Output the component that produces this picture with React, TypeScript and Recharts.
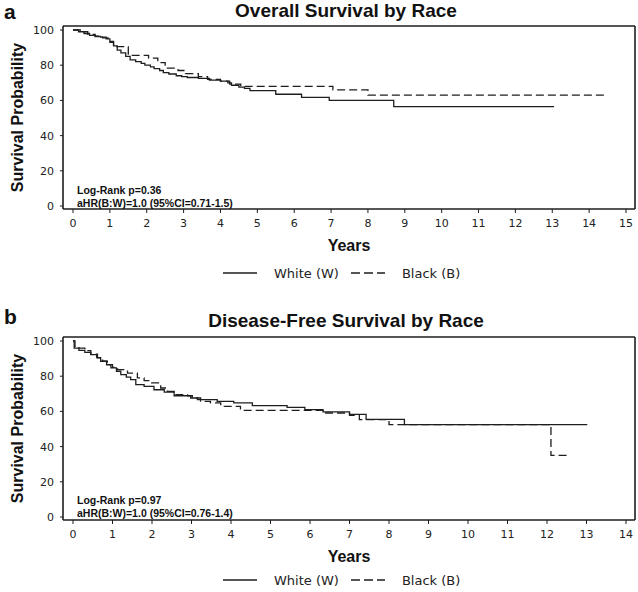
import { LineChart, Line, XAxis, YAxis, Legend, Label } from 'recharts';

// Overall survival (panel a)
const osWhiteYears = [0, 0.15, 0.3, 0.45, 0.6, 0.75, 0.9, 1.0, 1.1, 1.2, 1.3, 1.43, 1.55, 1.7, 1.85, 1.95, 2.1, 2.2, 2.35, 2.45, 2.6, 2.8, 2.95, 3.1, 3.4, 3.7, 4.0, 4.2, 4.3, 4.5, 4.65, 4.8, 5.5, 6.2, 6.95, 8.7, 13.05];
const osWhiteSurv = [100, 99, 98, 97, 96.3, 96, 95, 93, 91, 88.6, 87, 85, 83, 82, 81, 80, 79, 78, 77, 75.8, 75, 74, 73.5, 73, 72.5, 71.5, 71, 70, 68.6, 67.5, 66.8, 65.6, 63.5, 61.7, 60, 56.5, 56.5];
const osBlackYears = [0, 0.2, 0.4, 0.6, 0.8, 0.95, 1.1, 1.5, 2.05, 2.3, 2.5, 2.85, 3.05, 3.4, 3.65, 4.0, 4.25, 4.55, 7.05, 8.0, 14.5];
const osBlackSurv = [100, 99, 97.5, 96.5, 95.5, 93.5, 90.5, 85.6, 84, 81.5, 78.3, 77, 75.2, 73.5, 72, 71, 69.3, 68, 66, 63, 63];

// Disease-free survival (panel b)
const dfsWhiteYears = [0, 0.03, 0.15, 0.3, 0.45, 0.6, 0.7, 0.85, 0.96, 1.1, 1.21, 1.35, 1.46, 1.59, 1.8, 2.05, 2.31, 2.56, 2.98, 3.15, 3.65, 4.07, 4.54, 5.42, 5.87, 6.33, 7.0, 7.42, 8.39, 13.02];
const dfsWhiteSurv = [100, 96, 94.7, 93.5, 92.3, 90.5, 88.5, 86.5, 84.7, 82.8, 80.9, 79.5, 78, 75.2, 74.2, 72.3, 71, 68.9, 67.6, 66.7, 65.7, 64.8, 63.3, 62.3, 61, 59.7, 58.3, 55.5, 52.5, 52.5];
const dfsBlackYears = [0, 0.05, 0.15, 0.3, 0.45, 0.62, 0.75, 0.87, 1.0, 1.13, 1.38, 1.63, 1.8, 1.97, 2.22, 2.39, 2.56, 2.9, 3.02, 3.23, 3.48, 3.74, 4.24, 6.33, 7.0, 7.25, 8.0, 12.1, 12.58];
const dfsBlackSurv = [100, 97, 96, 94.5, 92.5, 90.4, 88.5, 86.6, 85, 83.7, 81.8, 79, 77.5, 76.2, 73.3, 71.4, 69.5, 68.9, 67.6, 65.7, 64.8, 62.9, 60.6, 59.1, 57.8, 55.3, 52.5, 35, 35];

const osYearTicks = [0, 1, 2, 3, 4, 5, 6, 7, 8, 9, 10, 11, 12, 13, 14, 15];
const dfsYearTicks = [0, 1, 2, 3, 4, 5, 6, 7, 8, 9, 10, 11, 12, 13, 14];
const probTicks = [0, 20, 40, 60, 80, 100];

const raceNames = ['White (W)', 'Black (B)'];

const INK = '#1e1e1e';
const DASH = '8 4';
const tickFont = { fill: '#222', fontSize: 11, fontFamily: 'DejaVu Sans' };
const boldFont = '"Liberation Sans", Arial, sans-serif';

const toRows = (years: number[], surv: number[]) => years.map((t, i) => ({ t, v: surv[i] }));

const YLabel = (props: any) => {
  const vb = props.viewBox;
  const cx = vb.x + 17;
  const cy = vb.y + vb.height / 2;
  return (
    <text x={cx} y={cy} transform={`rotate(-90 ${cx} ${cy})`} textAnchor="middle" dominantBaseline="central"
      fontFamily={boldFont} fontWeight="bold" fontSize={16} fill="#111">
      Survival Probability
    </text>
  );
};

const RaceLegend = () => (
  <div style={{ display: 'flex', alignItems: 'center', height: 24, fontFamily: 'DejaVu Sans', fontSize: 13, color: '#222' }}>
    {raceNames.map((name, i) => (
      <div key={name} style={{ display: 'flex', alignItems: 'center' }}>
        <svg width={34} height={10} style={{ marginRight: 17 }}>
          <line x1={0} x2={34} y1={5} y2={5} stroke={INK} strokeWidth={1.3} strokeDasharray={i === 1 ? '9 4' : undefined} />
        </svg>
        <span style={{ marginRight: 12, whiteSpace: 'nowrap' }}>{name}</span>
      </div>
    ))}
  </div>
);

type PanelProps = {
  white: { t: number; v: number }[];
  black: { t: number; v: number }[];
  maxYear: number;
  ticks: number[];
  height: number;
  marginTop: number;
  marginBottom: number;
  xAxisHeight: number;
  yearsOffset: number;
};

function SurvivalPanel(p: PanelProps) {
  return (
    <LineChart width={638} height={p.height} margin={{ top: p.marginTop, right: 0, bottom: p.marginBottom, left: 0 }}>
      <XAxis dataKey="t" type="number" domain={[0, p.maxYear]} ticks={p.ticks} padding={{ left: 10, right: 9 }}
        height={p.xAxisHeight} tick={tickFont} tickSize={4} tickMargin={6}
        axisLine={{ stroke: INK, strokeWidth: 1.6 }} tickLine={{ stroke: INK }}>
        <Label value="Years" position="insideBottom" offset={p.yearsOffset}
          style={{ fontFamily: boldFont, fontWeight: 'bold', fontSize: 16, fill: '#111' }} />
      </XAxis>
      <XAxis xAxisId="top" orientation="top" dataKey="t" type="number" domain={[0, p.maxYear]} height={1}
        tick={false} tickLine={false} axisLine={{ stroke: INK, strokeWidth: 1.6 }} padding={{ left: 10, right: 9 }} />
      <YAxis domain={[0, 100]} ticks={probTicks} width={63} padding={{ top: 4, bottom: 3 }}
        tick={tickFont} tickSize={3} tickMargin={6}
        axisLine={{ stroke: INK, strokeWidth: 1.6 }} tickLine={{ stroke: INK }}>
        <Label content={YLabel} />
      </YAxis>
      <YAxis yAxisId="right" orientation="right" domain={[0, 100]} width={3} tick={false} tickLine={false}
        axisLine={{ stroke: INK, strokeWidth: 1.6 }} />
      <Legend verticalAlign="bottom" align="left" height={24} wrapperStyle={{ left: 223, width: 260 }} content={RaceLegend} />
      <Line data={p.white} dataKey="v" name={raceNames[0]} type="stepAfter" stroke={INK} strokeWidth={1.3}
        dot={false} activeDot={false} isAnimationActive={false} />
      <Line data={p.black} dataKey="v" name={raceNames[1]} type="stepAfter" stroke={INK} strokeWidth={1.3}
        strokeDasharray={DASH} dot={false} activeDot={false} isAnimationActive={false} />
    </LineChart>
  );
}

const abs = (top: number, left: number, extra: any = {}) => ({ position: 'absolute' as const, top, left, ...extra });

export default function App() {
  const titleStyle = { fontFamily: boldFont, fontWeight: 'bold' as const, fontSize: 19, lineHeight: '19px', color: '#111', textAlign: 'center' as const, width: 572 };
  const letterStyle = { fontFamily: boldFont, fontWeight: 'bold' as const, fontSize: 21, lineHeight: '24px', color: '#111' };
  const noteStyle = { fontFamily: boldFont, fontWeight: 'bold' as const, fontSize: 10.5, lineHeight: '13px', color: '#111', whiteSpace: 'nowrap' as const };
  return (
    <div style={{ position: 'absolute', left: 0, top: 0, width: 638, height: 592, background: '#fff', overflow: 'hidden' }}>
      <div style={abs(0, 0, { width: 638, height: 296 })}>
        <div style={abs(0, 0)}>
          <SurvivalPanel white={toRows(osWhiteYears, osWhiteSurv)} black={toRows(osBlackYears, osBlackSurv)}
            maxYear={15} ticks={osYearTicks} height={290} marginTop={25} marginBottom={5} xAxisHeight={52} yearsOffset={10} />
        </div>
        <div style={abs(0, 4, letterStyle)}>a</div>
        <div style={abs(1, 60, titleStyle)}>Overall Survival by Race</div>
        <div style={abs(184, 77, noteStyle)}>Log-Rank p=0.36<br />aHR(B:W)=1.0 (95%CI=0.71-1.5)</div>
      </div>
      <div style={abs(296, 0, { width: 638, height: 296 })}>
        <div style={abs(0, 0)}>
          <SurvivalPanel white={toRows(dfsWhiteYears, dfsWhiteSurv)} black={toRows(dfsBlackYears, dfsBlackSurv)}
            maxYear={14} ticks={dfsYearTicks} height={296} marginTop={40} marginBottom={0} xAxisHeight={48} yearsOffset={6} />
        </div>
        <div style={abs(9, 4, letterStyle)}>b</div>
        <div style={abs(15, 60, titleStyle)}>Disease-Free Survival by Race</div>
        <div style={abs(198, 77, noteStyle)}>Log-Rank p=0.97<br />aHR(B:W)=1.0 (95%CI=0.76-1.4)</div>
      </div>
    </div>
  );
}
